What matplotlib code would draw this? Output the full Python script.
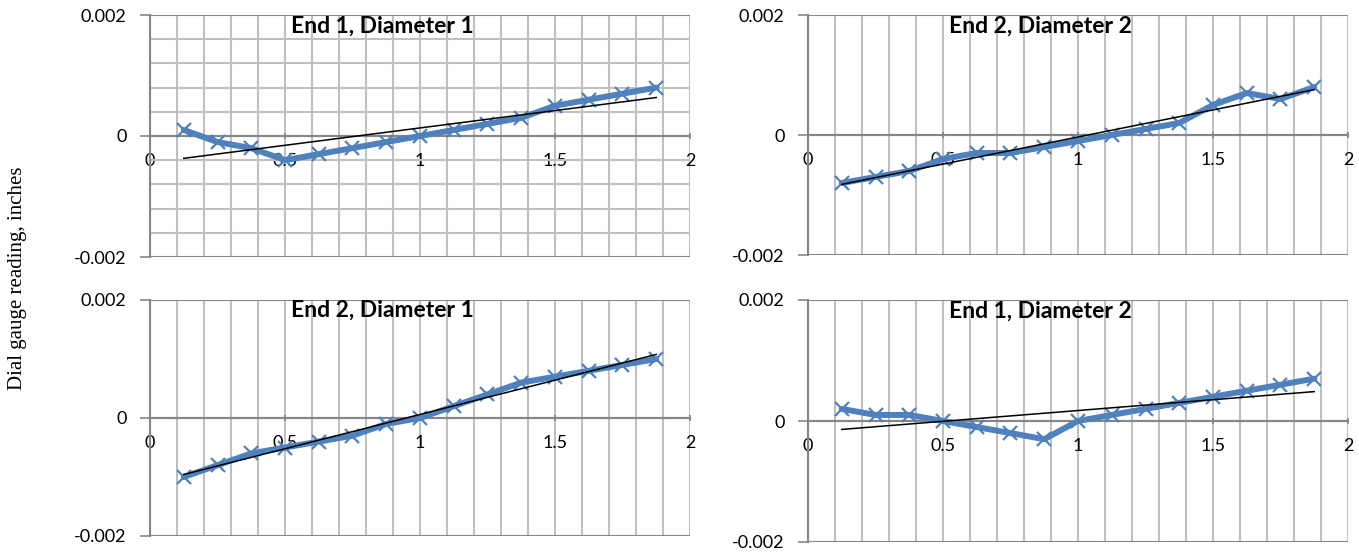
import numpy as np
import matplotlib
matplotlib.use("Agg")
import matplotlib.pyplot as plt
from matplotlib.ticker import MultipleLocator, FixedLocator, FixedFormatter

# ---------------- data ----------------
positions = [0.125, 0.25, 0.375, 0.5, 0.625, 0.75, 0.875, 1.0,
             1.125, 1.25, 1.375, 1.5, 1.625, 1.75, 1.875]

end1_dia1 = [0.0001, -0.0001, -0.0002, -0.0004, -0.0003, -0.0002, -0.0001, 0.0,
             0.0001, 0.0002, 0.0003, 0.0005, 0.0006, 0.0007, 0.0008]
end2_dia2 = [-0.0008, -0.0007, -0.0006, -0.0004, -0.0003, -0.0003, -0.0002, -0.0001,
             0.0, 0.0001, 0.0002, 0.0005, 0.0007, 0.0006, 0.0008]
end2_dia1 = [-0.0010, -0.0008, -0.0006, -0.0005, -0.0004, -0.0003, -0.0001, 0.0,
             0.0002, 0.0004, 0.0006, 0.0007, 0.0008, 0.0009, 0.0010]
end1_dia2 = [0.0002, 0.0001, 0.0001, 0.0, -0.0001, -0.0002, -0.0003, 0.0,
             0.0001, 0.0002, 0.0003, 0.0004, 0.0005, 0.0006, 0.0007]

titles = ["End 1, Diameter 1", "End 2, Diameter 2",
          "End 2, Diameter 1", "End 1, Diameter 2"]
series = [end1_dia1, end2_dia2, end2_dia1, end1_dia2]

x_ticks = [0, 0.5, 1, 1.5, 2]
x_tick_labels = ["0", "0.5", "1", "1.5", "2"]
y_ticks = [-0.002, 0, 0.002]
y_tick_labels = ["-0.002", "0", "0.002"]
y_label = "Dial gauge reading, inches"

# ---------------- style ----------------
W, H = 1359, 552
BLUE = "#4F81BD"
AXIS_GRAY = "#868686"
GRID_GRAY = "#C0C0C0"
TICK_FONT = "Lato"

# axes boxes in pixels: left, right, top, bottom
boxes = [(150, 690, 15, 257),
         (808, 1348, 15, 255),
         (150, 690, 300, 536),
         (808, 1348, 300, 542)]

fig = plt.figure(figsize=(W / 100, H / 100), dpi=100)

for i, (title, ys) in enumerate(zip(titles, series)):
    l, r, t, b = boxes[i]
    ax = fig.add_axes([l / W, 1 - b / H, (r - l) / W, (b - t) / H])
    ax.set_xlim(0, 2)
    ax.set_ylim(-0.002, 0.002)

    for s in ["top", "right"]:
        ax.spines[s].set_visible(False)
    ax.spines["left"].set_color(AXIS_GRAY)
    ax.spines["left"].set_linewidth(1.5)
    ax.spines["bottom"].set_position(("data", 0))
    ax.spines["bottom"].set_color(AXIS_GRAY)
    ax.spines["bottom"].set_linewidth(1.5)
    ax.spines["left"].set_zorder(3)
    ax.spines["bottom"].set_zorder(3)

    # grid
    ax.xaxis.set_major_locator(FixedLocator(x_ticks))
    ax.xaxis.set_major_formatter(FixedFormatter(x_tick_labels))
    ax.xaxis.set_minor_locator(MultipleLocator(0.1))
    ax.yaxis.set_major_locator(FixedLocator(y_ticks))
    ax.yaxis.set_major_formatter(FixedFormatter(y_tick_labels))
    ax.grid(True, which="both", axis="x", color=GRID_GRAY, lw=1.5, zorder=0)
    ax.grid(True, which="major", axis="y", color=AXIS_GRAY, lw=1.5, zorder=0)
    if i == 0:
        ax.yaxis.set_minor_locator(MultipleLocator(0.0004))
        ax.grid(True, which="minor", axis="y", color=GRID_GRAY, lw=1.5, zorder=0)
        ax.tick_params(axis="y", which="minor", length=0)
    ax.set_axisbelow(True)

    ax.tick_params(axis="x", which="major", length=5, width=1.2, color=AXIS_GRAY,
                   direction="inout", pad=10, labelsize=13)
    ax.tick_params(axis="x", which="minor", length=0)
    ax.tick_params(axis="y", which="major", length=7, width=1.2, color=AXIS_GRAY,
                   direction="out", pad=10, labelsize=13)
    for lab in ax.get_xticklabels() + ax.get_yticklabels():
        lab.set_fontfamily(TICK_FONT)

    # data series
    ax.plot(positions, ys, color=BLUE, lw=4.3, marker="x", ms=10, mew=1.6,
            mec=BLUE, solid_joinstyle="round", solid_capstyle="round", zorder=4)
    # linear trend line
    slope, intercept = np.polyfit(positions, ys, 1)
    xe = np.array([positions[0], positions[-1]])
    ax.plot(xe, slope * xe + intercept, color="black", lw=1.1, zorder=5)

    ax.text(0.43, 0.955, title, transform=ax.transAxes, ha="center", va="center",
            fontsize=16.5, fontweight="bold", fontfamily=TICK_FONT, zorder=6)

fig.text(18 / W, 1 - 278 / H, y_label, rotation=90, ha="center", va="center",
         fontsize=15, fontfamily="Liberation Serif")

fig.savefig("out.png", dpi=100)
